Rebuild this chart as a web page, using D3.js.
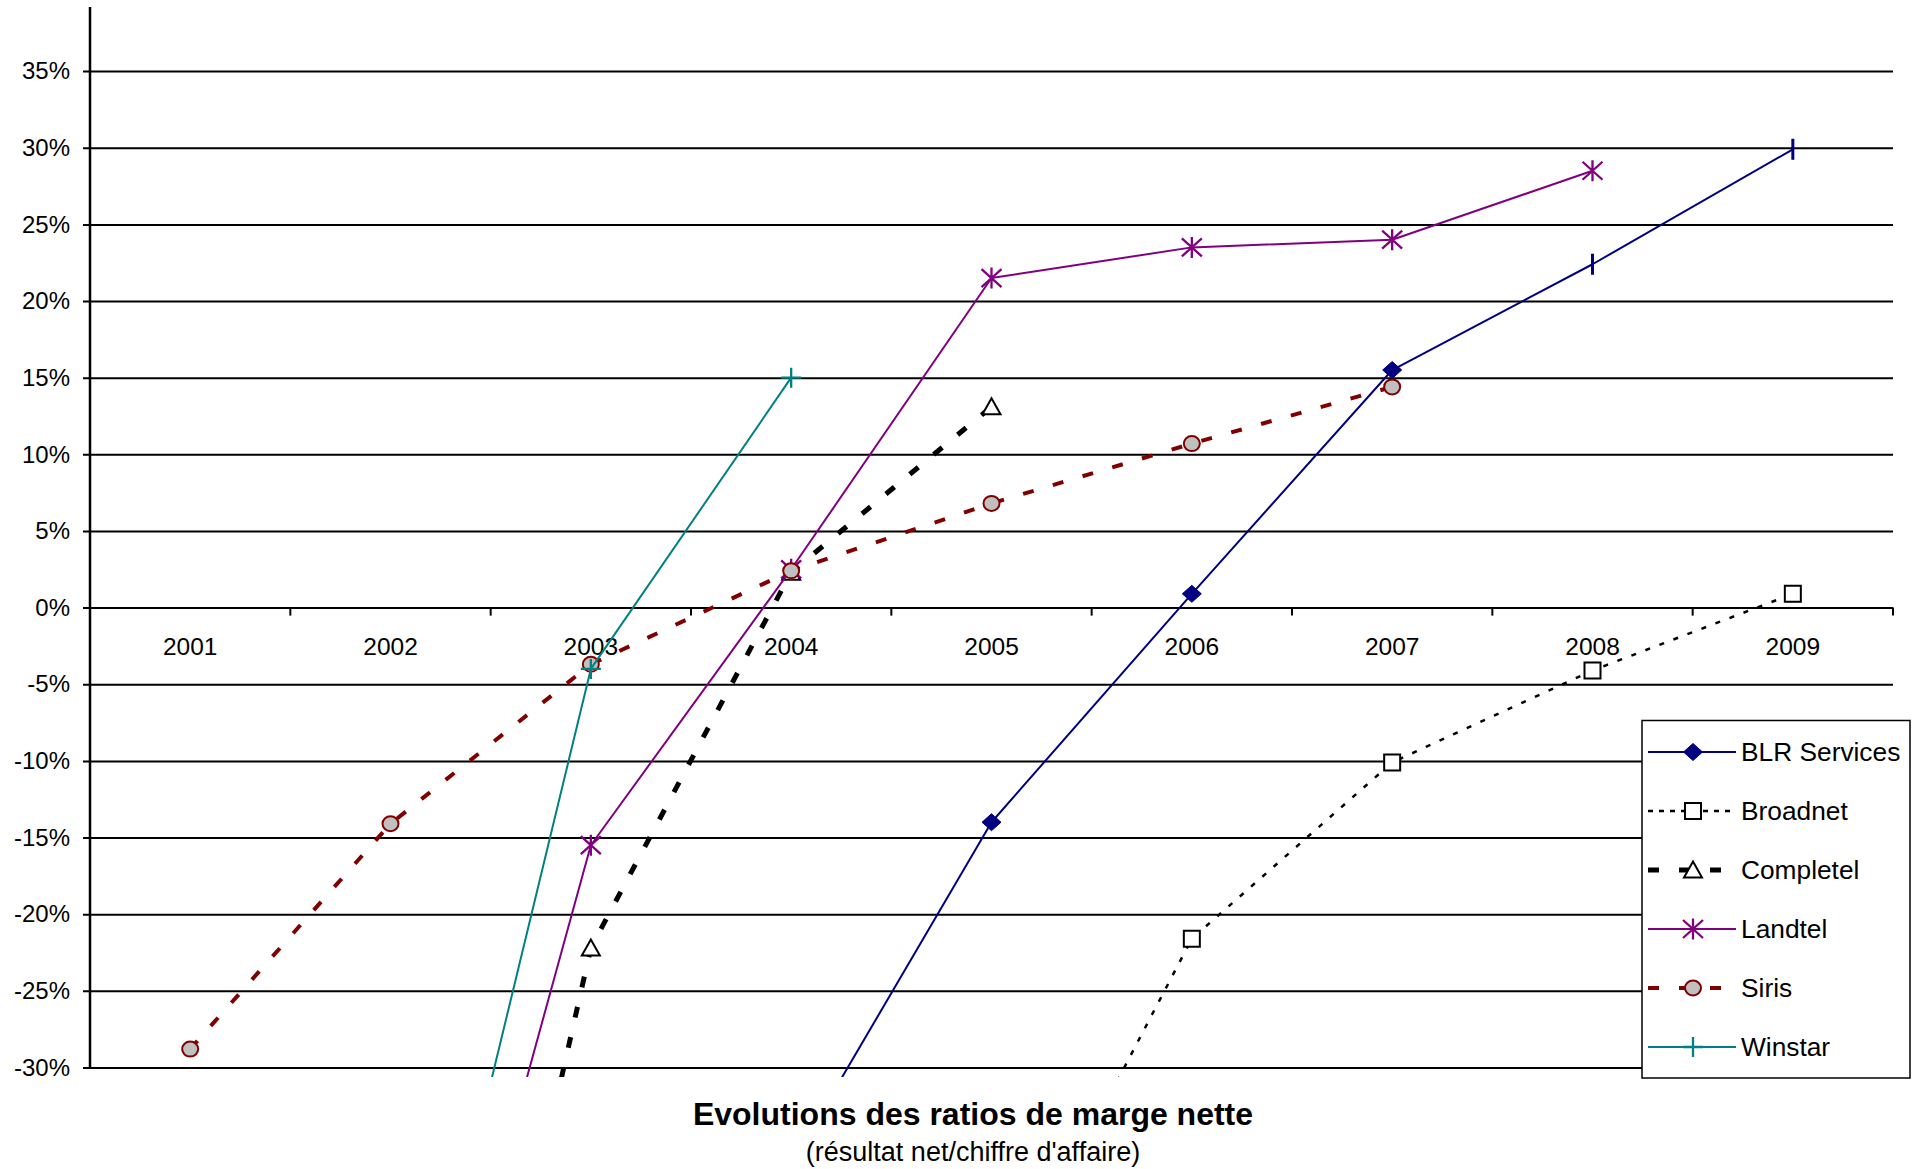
<!DOCTYPE html>
<html>
<head>
<meta charset="utf-8">
<script src="https://cdn.jsdelivr.net/npm/d3@7"></script>
<style>
  html, body { margin: 0; padding: 0; background: #ffffff; }
  svg { display: block; }
  text { font-family: "Liberation Sans", Arial, sans-serif; fill: #000; }
</style>
</head>
<body>
<svg id="chart" width="1917" height="1169"></svg>
<script>
// ---------------- DATA ----------------
const years = ["2001", "2002", "2003", "2004", "2005", "2006", "2007", "2008", "2009"];

const blrServices = [null, null, null, -36.3, -14.0, 0.9, 15.5, 22.4, 29.9];
const broadnet    = [null, null, null, null, -46.5, -21.6, -10.1, -4.1, 0.9];
const completel   = [null, -80.0, -22.2, 2.3, 13.1, null, null, null, null];
const landtel     = [null, -63.0, -15.5, 2.5, 21.5, 23.5, 24.0, 28.5, null];
const siris       = [-28.8, -14.1, -3.7, 2.4, 6.8, 10.7, 14.4, null, null];
const winstar     = [null, -58.0, -4.0, 15.0, null, null, null, null, null];

const seriesNames = ["BLR Services", "Broadnet", "Completel", "Landtel", "Siris", "Winstar"];
const blrBarMarkerYears = ["2008", "2009"];

const yTicks = [-30, -25, -20, -15, -10, -5, 0, 5, 10, 15, 20, 25, 30, 35];
const yTickLabels = ["-30%", "-25%", "-20%", "-15%", "-10%", "-5%", "0%", "5%", "10%", "15%", "20%", "25%", "30%", "35%"];

const titleText = "Evolutions des ratios de marge nette";
const subtitleText = "(résultat net/chiffre d'affaire)";

// ---------------- LAYOUT ----------------
const plotLeft = 90, plotRight = 1893;
const axisTop = 7;
const yMinPix = 1067.5, yMaxPix = 71.1;
const clipBottom = 1077;

const svg = d3.select("#chart");

const x = d3.scaleBand().domain(years).range([plotLeft, plotRight]).paddingInner(0).paddingOuter(0);
const y = d3.scaleLinear().domain([-30, 35]).range([yMinPix, yMaxPix]);
const cx = yr => x(yr) + x.bandwidth() / 2;

// ---------------- GRID / Y AXIS ----------------
const yAxis = d3.axisLeft(y)
  .tickValues(yTicks)
  .tickFormat((d, i) => yTickLabels[i])
  .tickSize(-(plotRight - plotLeft))
  .tickSizeOuter(0)
  .tickPadding(20);

const gy = svg.append("g").attr("transform", `translate(${plotLeft},0)`).call(yAxis);
gy.select(".domain").remove();
gy.selectAll(".tick line")
  .attr("x1", -7)
  .attr("stroke", "#000")
  .attr("stroke-width", 2);
gy.selectAll(".tick text")
  .attr("font-size", 24)
  .attr("font-family", "'Liberation Sans', Arial, sans-serif")
  .attr("fill", "#000")
  .attr("x", -20);

// vertical axis line
svg.append("line")
  .attr("x1", plotLeft).attr("x2", plotLeft)
  .attr("y1", axisTop).attr("y2", y(-30))
  .attr("stroke", "#000").attr("stroke-width", 2.5);

// ---------------- X AXIS (at 0%) ----------------
const xAxis = d3.axisBottom(x).tickSize(0).tickPadding(0);
const gx = svg.append("g").attr("transform", `translate(0,${y(0)})`).call(xAxis);
gx.select(".domain").remove();
gx.selectAll(".tick text")
  .attr("font-size", 24.5)
  .attr("font-family", "'Liberation Sans', Arial, sans-serif")
  .attr("fill", "#000")
  .attr("y", 39)
  .attr("dy", "0.35em");

// boundary ticks
const boundaries = years.slice(1).map(yr => x(yr)).concat([x(years[years.length - 1]) + x.bandwidth()]);
svg.append("g").selectAll("line").data(boundaries).join("line")
  .attr("x1", d => d).attr("x2", d => d)
  .attr("y1", y(0)).attr("y2", y(0) + 8)
  .attr("stroke", "#000").attr("stroke-width", 2);

// ---------------- MARKERS ----------------
function markerPath(kind) {
  switch (kind) {
    case "diamond": return "M0,-8.5L9.5,0L0,8.5L-9.5,0Z";
    case "square": return "M-8,-8H8V8H-8Z";
    case "triangle": return "M0,-8.5L9,7.5L-9,7.5Z";
    case "asterisk": return "M-10,-9L10,9M-10,9L10,-9M0,-10.5V10.5";
    case "plus": return "M-10,0H10M0,-10V10";
    case "bar": return "M0,-10.5V10.5";
  }
  return "";
}

function drawMarker(g, kind, st) {
  if (kind === "circle") {
    g.append("ellipse").attr("rx", 8).attr("ry", 7.5)
      .attr("fill", "#c0c0c0").attr("stroke", st.color).attr("stroke-width", 2);
  } else if (kind === "diamond") {
    g.append("path").attr("d", markerPath(kind)).attr("fill", st.color).attr("stroke", st.color).attr("stroke-width", 1);
  } else if (kind === "square" || kind === "triangle") {
    g.append("path").attr("d", markerPath(kind)).attr("fill", "#fff").attr("stroke", "#000").attr("stroke-width", 2);
  } else if (kind === "bar") {
    g.append("path").attr("d", markerPath(kind)).attr("fill", "none").attr("stroke", st.color).attr("stroke-width", 3);
  } else {
    g.append("path").attr("d", markerPath(kind)).attr("fill", "none").attr("stroke", st.color).attr("stroke-width", 2.3);
  }
}

// ---------------- SERIES ----------------
const seriesValues = [blrServices, broadnet, completel, landtel, siris, winstar];
const styles = [
  { color: "#000080", width: 2,   dash: null,    legendDash: null,    marker: "diamond" },
  { color: "#000000", width: 2.5, dash: "5,10",  legendDash: "5,6",   marker: "square" },
  { color: "#000000", width: 5,   dash: "11,20", legendDash: "11,20", marker: "triangle" },
  { color: "#800080", width: 2,   dash: null,    legendDash: null,    marker: "asterisk" },
  { color: "#800000", width: 4,   dash: "11,20", legendDash: "11,20", marker: "circle" },
  { color: "#008080", width: 2,   dash: null,    legendDash: null,    marker: "plus" }
];

svg.append("defs").append("clipPath").attr("id", "plotClip")
  .append("rect").attr("x", plotLeft).attr("y", axisTop)
  .attr("width", plotRight - plotLeft).attr("height", clipBottom - axisTop);

const plot = svg.append("g").attr("clip-path", "url(#plotClip)");

const line = d3.line()
  .defined(d => d.v !== null)
  .x(d => cx(d.yr))
  .y(d => y(d.v));

seriesValues.forEach((vals, si) => {
  const st = styles[si];
  const pts = years.map((yr, i) => ({ yr, v: vals[i] }));
  plot.append("path")
    .datum(pts)
    .attr("d", line)
    .attr("fill", "none")
    .attr("stroke", st.color)
    .attr("stroke-width", st.width)
    .attr("stroke-dasharray", st.dash)
    .attr("stroke-linejoin", "round");
  pts.filter(d => d.v !== null).forEach(d => {
    const g = plot.append("g").attr("transform", `translate(${cx(d.yr)},${y(d.v)})`);
    let kind = st.marker;
    if (si === 0 && blrBarMarkerYears.includes(d.yr)) kind = "bar";
    drawMarker(g, kind, st);
  });
});

// ---------------- LEGEND ----------------
const legend = svg.append("g");
legend.append("rect")
  .attr("x", 1642).attr("y", 720.5)
  .attr("width", 268).attr("height", 357.5)
  .attr("fill", "#fff").attr("stroke", "#000").attr("stroke-width", 1.5);

seriesNames.forEach((name, i) => {
  const st = styles[i];
  const ly = 752 + i * 59;
  const g = legend.append("g").attr("transform", `translate(0,${ly})`);
  g.append("line")
    .attr("x1", 1648).attr("x2", 1736)
    .attr("y1", 0).attr("y2", 0)
    .attr("stroke", st.color)
    .attr("stroke-width", st.width)
    .attr("stroke-dasharray", st.legendDash);
  const mg = g.append("g").attr("transform", "translate(1693,0)");
  drawMarker(mg, st.marker, st);
  g.append("text")
    .attr("x", 1741).attr("y", 0).attr("dy", "0.35em")
    .attr("font-size", 26.3)
    .text(name);
});

// ---------------- TITLES ----------------
svg.append("text")
  .attr("x", 973).attr("y", 1114).attr("dy", "0.35em")
  .attr("text-anchor", "middle")
  .attr("font-size", 32).attr("font-weight", "bold")
  .text(titleText);

svg.append("text")
  .attr("x", 973).attr("y", 1152).attr("dy", "0.35em")
  .attr("text-anchor", "middle")
  .attr("font-size", 27)
  .text(subtitleText);
</script>
</body>
</html>
